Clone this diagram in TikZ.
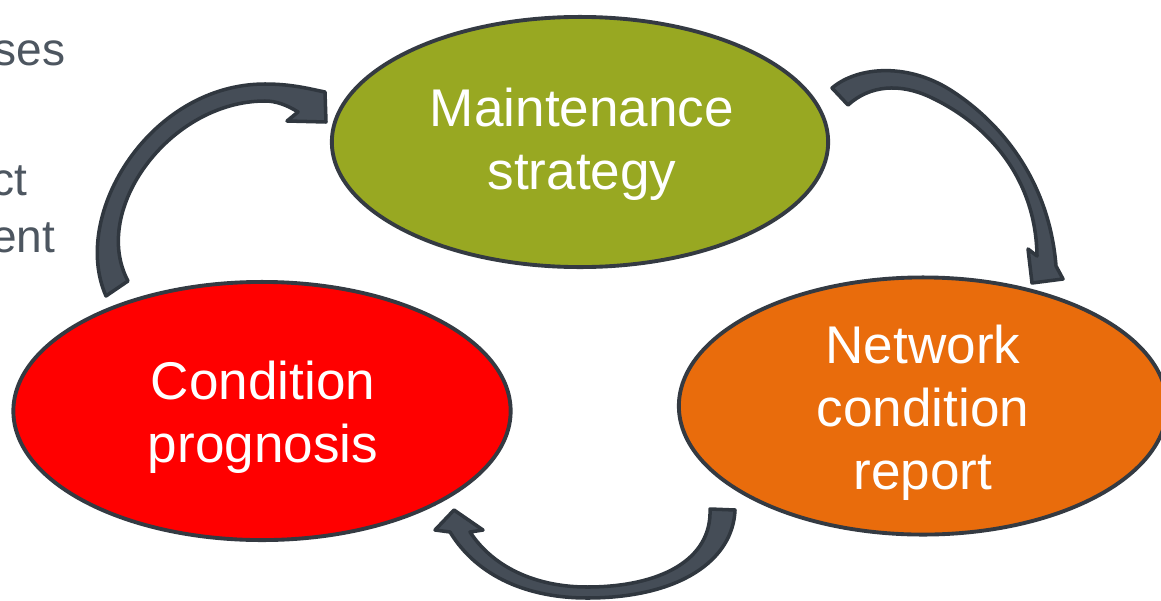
\documentclass[tikz,border=0pt]{standalone}
\usepackage{fontspec}
\setmainfont{Liberation Sans}
\usetikzlibrary{shapes.geometric}
\definecolor{olivegreen}{RGB}{152,168,34}
\definecolor{brightred}{RGB}{255,0,0}
\definecolor{deeporange}{RGB}{233,108,12}
\definecolor{edgecol}{RGB}{52,58,66}
\definecolor{arrowfill}{RGB}{69,77,87}
\definecolor{arrowline}{RGB}{48,55,63}
\definecolor{sidegray}{RGB}{77,86,96}
\begin{document}
\begin{tikzpicture}[x=0.01cm,y=-0.01cm,
  bubble/.style={ellipse, draw=edgecol, line width=1.1pt, inner sep=0pt},
  bubbletext/.style={text=white, align=center, font=\fontsize{15.1}{17.93}\selectfont, inner sep=0pt},
  sidetext/.style={text=sidegray, font=\fontsize{13.1}{15.7}\selectfont, inner sep=0pt, anchor=base east},
  blockarrow/.style={fill=arrowfill, draw=arrowline, line width=1pt, line join=round}]
\useasboundingbox (0,0) rectangle (1161,600);
\clip (0,0) rectangle (1161,600);

% partially visible text at the left edge
\node[sidetext] (t1) at (66,65) {ses};
\node[sidetext] (t2) at (28,195) {ct};
\node[sidetext] (t3) at (56,252) {ent};

% ellipses
\node[bubble, fill=olivegreen, minimum width=4.96cm, minimum height=2.50cm] (ms) at (580,142) {};
\node[bubble, fill=brightred, minimum width=4.97cm, minimum height=2.58cm] (cp) at (262,411) {};
\node[bubble, fill=deeporange, minimum width=4.88cm, minimum height=2.57cm] (ncr) at (923,406) {};

\node[bubbletext] (mslabel) at (582,144.5) {Maintenance\\strategy};
\node[bubbletext] (cplabel) at (263,417.5) {Condition\\prognosis};
\node[bubbletext] (ncrlabel) at (923,413) {Network\\condition\\report};

% curved block arrows
% condition prognosis -> maintenance strategy
\draw[blockarrow] (106,296) .. controls (70,215) and (150,84) .. (265,84)
  .. controls (292,84) and (310,89) .. (325,92) -- (326,122) -- (287,121) -- (298,112)
  .. controls (287,105) and (276,101) .. (265,101)
  .. controls (170,101) and (90,210) .. (128,281) -- cycle;
% maintenance strategy -> network condition report
\draw[blockarrow] (832,88) .. controls (858,66) and (910,62) .. (955,93)
  .. controls (1010,130) and (1050,190) .. (1056,266) -- (1063,279) -- (1032,283)
  -- (1028,249) -- (1037,256)
  .. controls (1036,180) and (990,125) .. (930,97)
  .. controls (900,83) and (870,85) .. (848,105) -- cycle;
% network condition report -> condition prognosis
\draw[blockarrow] (710,509) -- (735,510)
  .. controls (733,560) and (680,598) .. (587,598)
  .. controls (530,598) and (478,578) .. (450,532) -- (435,530) -- (454,510) -- (483,530) -- (470,532)
  .. controls (495,570) and (540,587) .. (587,587)
  .. controls (660,587) and (712,560) .. (710,509) -- cycle;
\end{tikzpicture}
\end{document}
